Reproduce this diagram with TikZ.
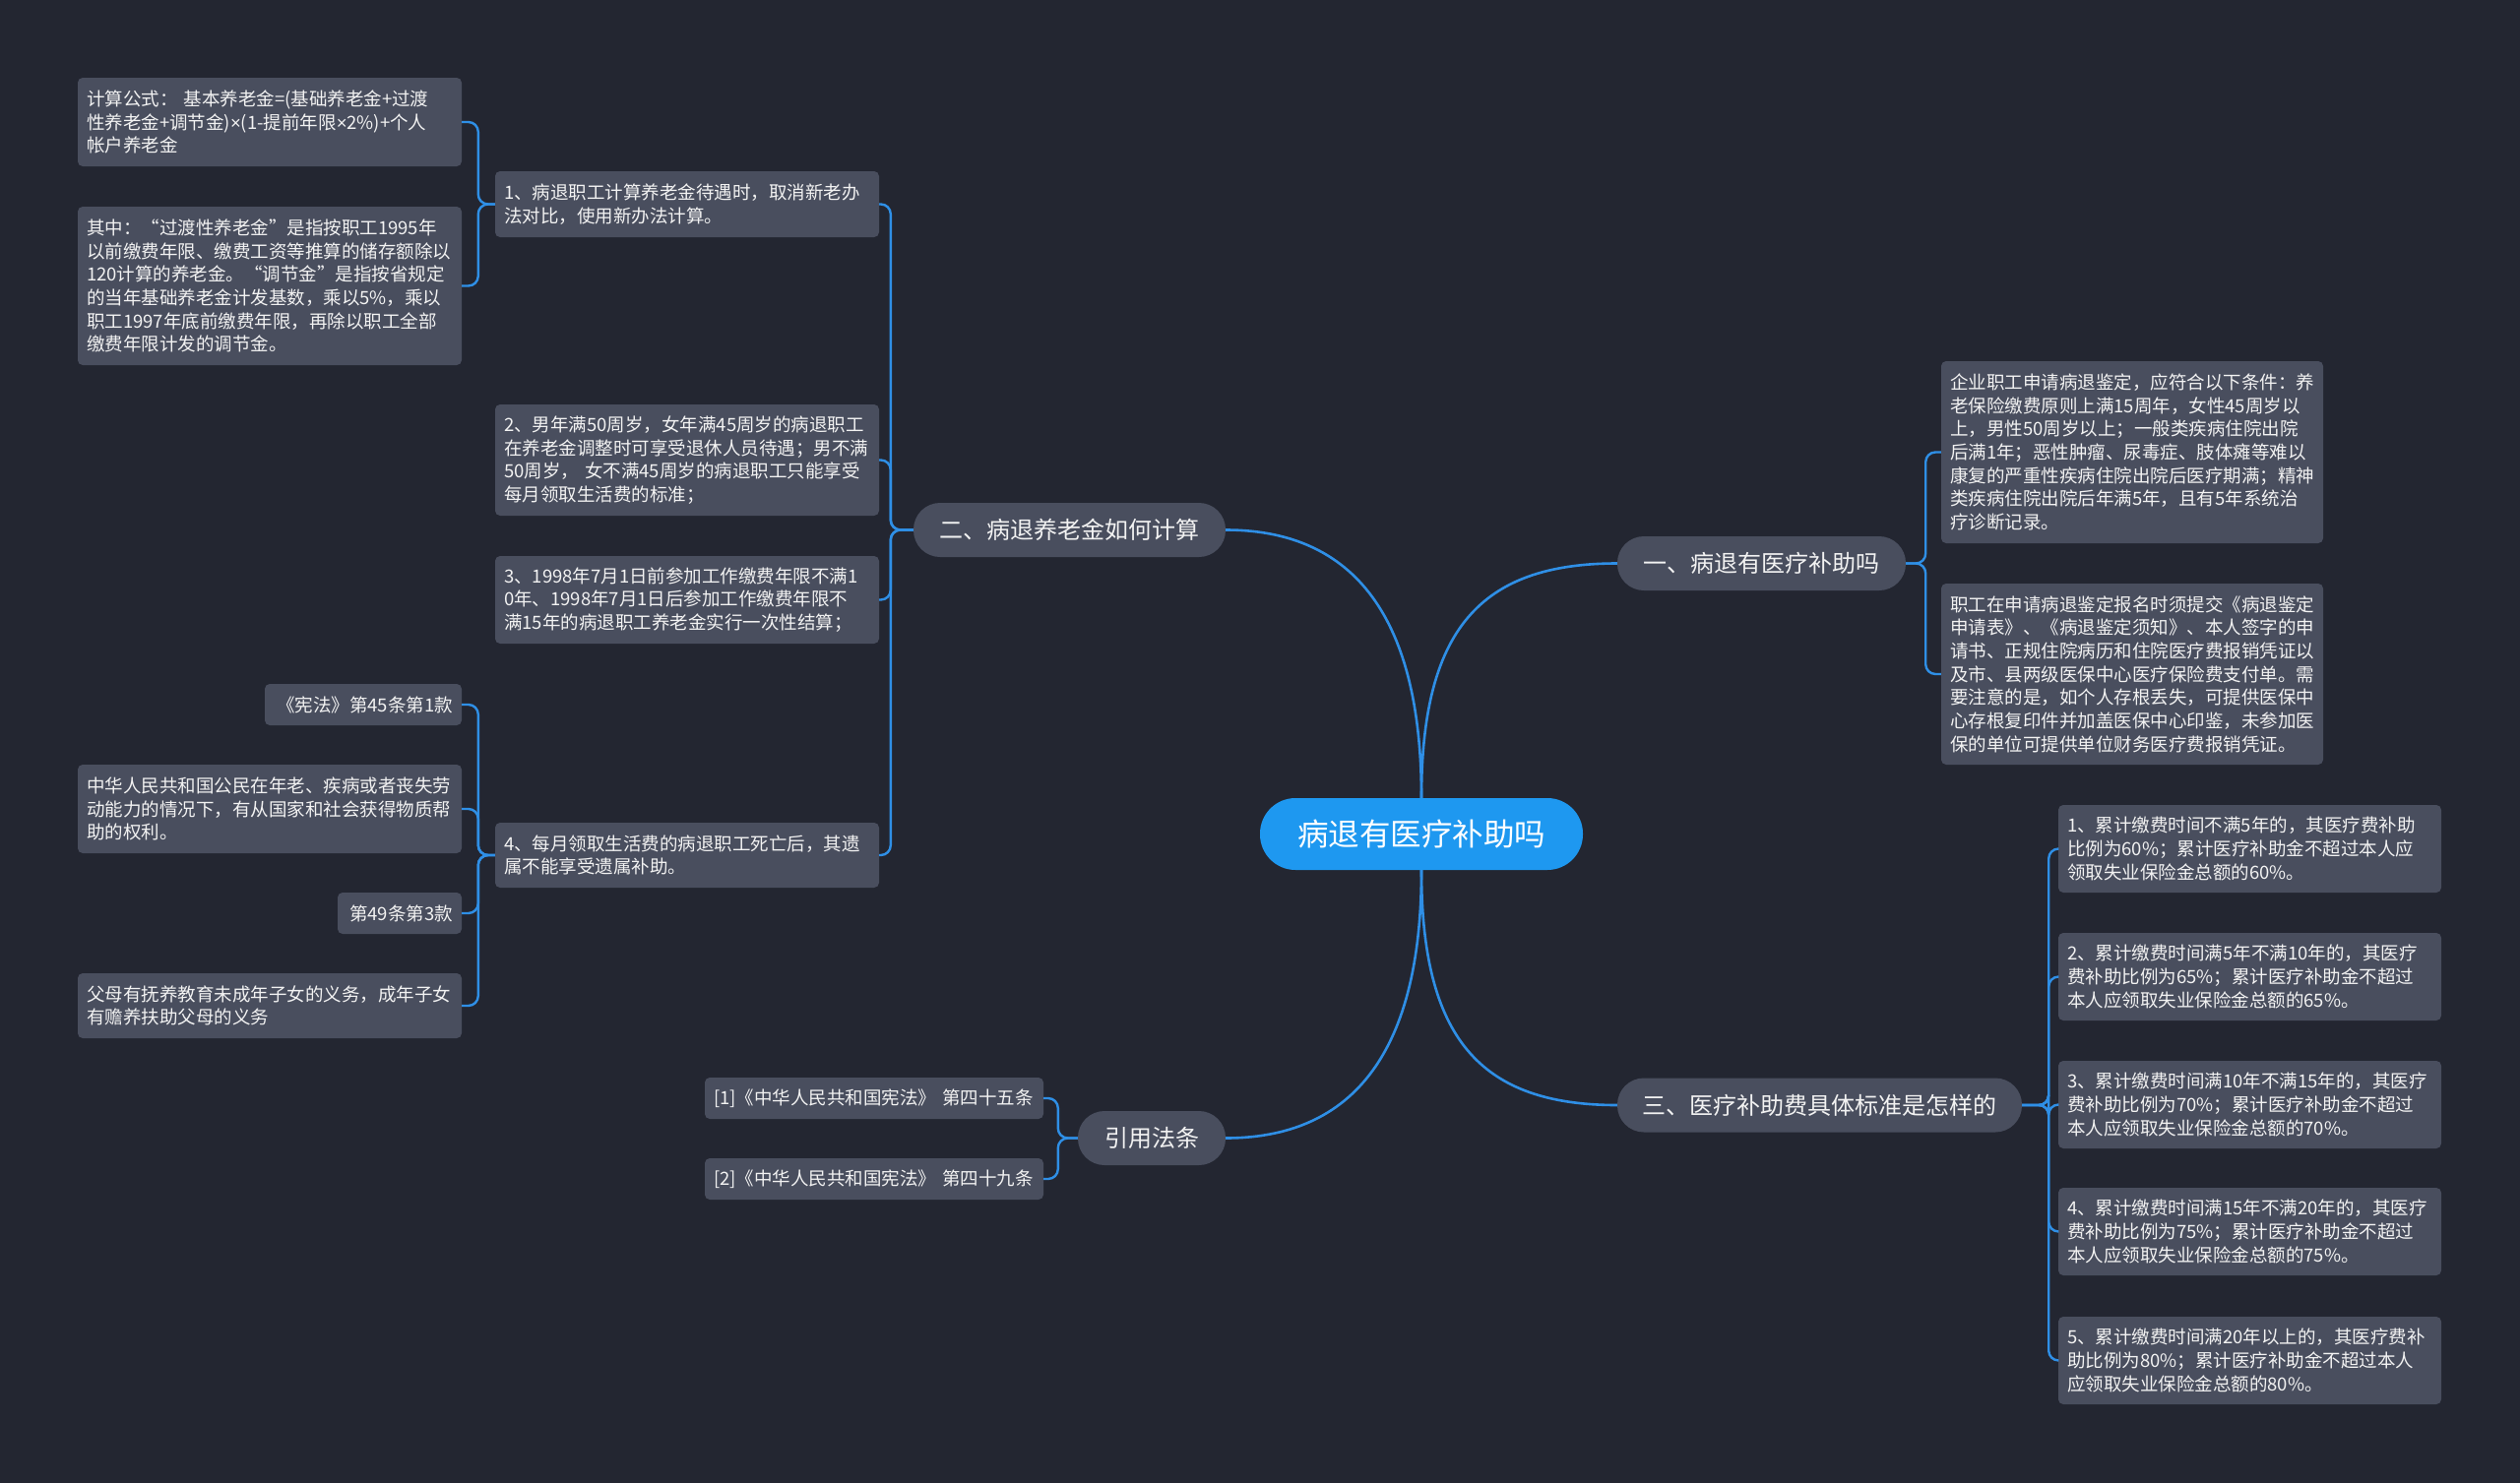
\documentclass[tikz,border=0pt]{standalone}
\usepackage{fontspec}
\setmainfont{Noto Sans CJK SC}
\newfontfamily\latinfont{Liberation Sans}
\definecolor{bgc}{HTML}{232631}
\definecolor{nodefill}{HTML}{494E5E}
\definecolor{rootfill}{HTML}{1E98F0}
\definecolor{linec}{HTML}{2F8FE6}
\definecolor{txt}{HTML}{F2F2F2}
\newcommand\leaffont{\fontsize{18.5pt}{23.7pt}\selectfont}
\newcommand\brfont{\fontsize{24pt}{28pt}\selectfont}
\newcommand\rootfont{\fontsize{31.5pt}{36pt}\selectfont}
\newcommand\tms{{\latinfont ×}}
\begin{document}
\begin{tikzpicture}[x=1pt,y=-1pt,
  leaf/.style={fill=nodefill, rounded corners=5pt, text=txt, font=\leaffont, align=left, inner xsep=9pt, inner ysep=0pt},
  branch/.style={fill=nodefill, rounded corners=27pt, text=txt, font=\brfont, inner sep=0pt, minimum height=55pt},
  rootnode/.style={fill=rootfill, rounded corners=36pt, text=white, font=\rootfont, inner sep=0pt, minimum width=328pt, minimum height=73pt},
  mainline/.style={draw=linec, line width=2.6pt},
  subline/.style={draw=linec, line width=2.4pt, rounded corners=10pt}]
\fill[bgc] (0,0) rectangle (2560,1507);
\useasboundingbox (0,0) rectangle (2560,1507);

% root and branches
\node[rootnode] (root) at (1444,847.5) {病退有医疗补助吗};
\node[branch, minimum width=293pt] (b1) at (1789.5,572.5) {一、病退有医疗补助吗};
\node[branch, minimum width=317pt] (b2) at (1086.5,538.5) {二、病退养老金如何计算};
\node[branch, minimum width=411pt] (b3) at (1848.5,1123) {三、医疗补助费具体标准是怎样的};
\node[branch, minimum width=150pt] (b4) at (1170,1156.5) {引用法条};

% branch 1 children
\node[leaf, text width=370pt, minimum height=185pt] (c1a) at (2166,459.5) {企业职工申请病退鉴定，应符合以下条件：养\\老保险缴费原则上满15周年，女性45周岁以\\上，男性50周岁以上；一般类疾病住院出院\\后满1年；恶性肿瘤、尿毒症、肢体瘫等难以\\康复的严重性疾病住院出院后医疗期满；精神\\类疾病住院出院后年满5年，且有5年系统治\\疗诊断记录。};
\node[leaf, text width=370pt, minimum height=184pt] (c1b) at (2166,685) {职工在申请病退鉴定报名时须提交《病退鉴定\\申请表》、《病退鉴定须知》、本人签字的申\\请书、正规住院病历和住院医疗费报销凭证以\\及市、县两级医保中心医疗保险费支付单。需\\要注意的是，如个人存根丢失，可提供医保中\\心存根复印件并加盖医保中心印鉴，未参加医\\保的单位可提供单位财务医疗费报销凭证。};

% branch 3 children
\node[leaf, text width=371pt, minimum height=89pt] (d1) at (2285.5,862.5) {1、累计缴费时间不满5年的，其医疗费补助\\比例为60\%；累计医疗补助金不超过本人应\\领取失业保险金总额的60\%。};
\node[leaf, text width=371pt, minimum height=89pt] (d2) at (2285.5,992.5) {2、累计缴费时间满5年不满10年的，其医疗\\费补助比例为65\%；累计医疗补助金不超过\\本人应领取失业保险金总额的65\%。};
\node[leaf, text width=371pt, minimum height=89pt] (d3) at (2285.5,1122.5) {3、累计缴费时间满10年不满15年的，其医疗\\费补助比例为70\%；累计医疗补助金不超过\\本人应领取失业保险金总额的70\%。};
\node[leaf, text width=371pt, minimum height=89pt] (d4) at (2285.5,1251.5) {4、累计缴费时间满15年不满20年的，其医疗\\费补助比例为75\%；累计医疗补助金不超过\\本人应领取失业保险金总额的75\%。};
\node[leaf, text width=371pt, minimum height=89pt] (d5) at (2285.5,1382.5) {5、累计缴费时间满20年以上的，其医疗费补\\助比例为80\%；累计医疗补助金不超过本人\\应领取失业保险金总额的80\%。};

% branch 2 children
\node[leaf, text width=372pt, minimum height=67pt] (e1) at (698,207.5) {1、病退职工计算养老金待遇时，取消新老办\\法对比，使用新办法计算。};
\node[leaf, text width=372pt, minimum height=113pt] (e2) at (698,467.5) {2、男年满50周岁，女年满45周岁的病退职工\\在养老金调整时可享受退休人员待遇；男不满\\50周岁， 女不满45周岁的病退职工只能享受\\每月领取生活费的标准；};
\node[leaf, text width=372pt, minimum height=89pt] (e3) at (698,609.5) {3、1998年7月1日前参加工作缴费年限不满1\\0年、1998年7月1日后参加工作缴费年限不\\满15年的病退职工养老金实行一次性结算；};
\node[leaf, text width=372pt, minimum height=66pt] (e4) at (698,869) {4、每月领取生活费的病退职工死亡后，其遗\\属不能享受遗属补助。};

% e1 children
\node[leaf, text width=372pt, minimum height=90pt] (f1) at (274,124) {计算公式： 基本养老金=(基础养老金+过渡\\性养老金+调节金)\tms(1-提前年限\tms2\%)+个人\\帐户养老金};
\node[leaf, text width=372pt, minimum height=161pt] (f2) at (274,290.5) {其中：“过渡性养老金”是指按职工1995年\\以前缴费年限、缴费工资等推算的储存额除以\\120计算的养老金。“调节金”是指按省规定\\的当年基础养老金计发基数，乘以5\%，乘以\\职工1997年底前缴费年限，再除以职工全部\\缴费年限计发的调节金。};

% e4 children
\node[leaf, text width=182pt, minimum height=42pt, align=right] (g1) at (369,716) {《宪法》第45条第1款};
\node[leaf, text width=372pt, minimum height=90pt] (g2) at (274,822) {中华人民共和国公民在年老、疾病或者丧失劳\\动能力的情况下，有从国家和社会获得物质帮\\助的权利。};
\node[leaf, text width=108pt, minimum height=42pt, align=right] (g3) at (406,928) {第49条第3款};
\node[leaf, text width=372pt, minimum height=66pt] (g4) at (274,1022) {父母有抚养教育未成年子女的义务，成年子女\\有赡养扶助父母的义务};

% branch 4 children
\node[leaf, text width=326pt, minimum height=42pt] (h1) at (888,1116) {[1]《中华人民共和国宪法》 第四十五条};
\node[leaf, text width=326pt, minimum height=42pt] (h2) at (888,1198) {[2]《中华人民共和国宪法》 第四十九条};

% main connectors
\draw[mainline] (root.north) .. controls +(0,-170) and +(-140,0) .. (b1.west);
\draw[mainline] (root.north) .. controls +(0,-170) and +(140,0) .. (b2.east);
\draw[mainline] (root.south) .. controls +(0,170) and +(-140,0) .. (b3.west);
\draw[mainline] (root.south) .. controls +(0,170) and +(140,0) .. (b4.east);

% sub connectors
\foreach \c in {c1a,c1b} \draw[subline] (b1.east) -- ++(20,0) |- (\c.west);
\foreach \c in {d1,d2,d3,d4,d5} \draw[subline] (b3.east) -- ++(27,0) |- (\c.west);
\foreach \c in {e1,e2,e3,e4} \draw[subline] (b2.west) -- ++(-23,0) |- (\c.east);
\foreach \c in {f1,f2} \draw[subline] (e1.west) -- ++(-17,0) |- (\c.east);
\foreach \c in {g1,g2,g3,g4} \draw[subline] (e4.west) -- ++(-17,0) |- (\c.east);
\foreach \c in {h1,h2} \draw[subline] (b4.west) -- ++(-20,0) |- (\c.east);
\end{tikzpicture}
\end{document}
